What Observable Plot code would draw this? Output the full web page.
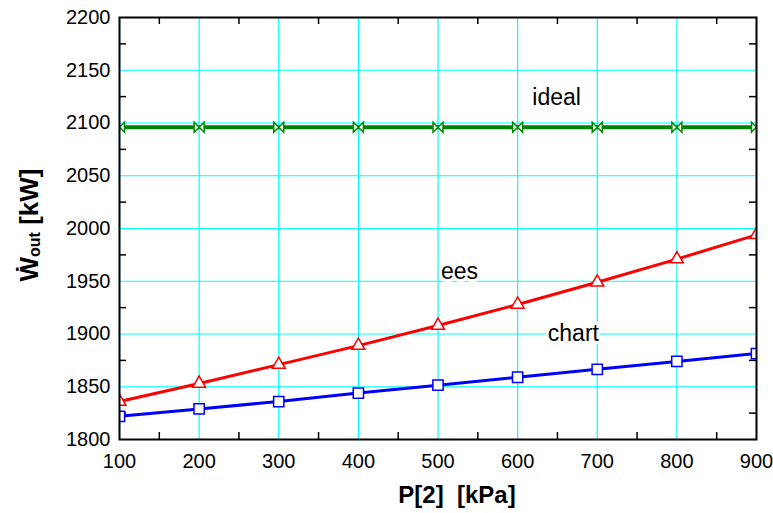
<!DOCTYPE html>
<html>
<head>
<meta charset="utf-8">
<script src="https://cdn.jsdelivr.net/npm/d3@7"></script>
<script src="https://cdn.jsdelivr.net/npm/@observablehq/plot@0.6"></script>
<style>
  html, body { margin: 0; padding: 0; background: white; }
  #chart { width: 773px; height: 513px; }
</style>
</head>
<body>
<div id="chart"></div>
<script>
// ---- data ----
const pressure = [100, 200, 300, 400, 500, 600, 700, 800, 900];
const idealW   = [2096, 2096, 2096, 2096, 2096, 2096, 2096, 2096, 2096];
const eesW     = [1836, 1853, 1871, 1889, 1908, 1928, 1949, 1971, 1994];
const chartW   = [1822, 1829, 1836, 1844, 1851.5, 1859, 1866.5, 1874, 1881.5];

const xTicks = [100, 200, 300, 400, 500, 600, 700, 800, 900];
const yTicks = [1800, 1850, 1900, 1950, 2000, 2050, 2100, 2150, 2200];
const xMinor = [150, 250, 350, 450, 550, 650, 750, 850];
const yMinor = [1825, 1875, 1925, 1975, 2025, 2075, 2125, 2175];

const seriesNames = ["ideal", "ees", "chart"];
const labelX = [649, 527, 670];
const labelY = [2124.5, 1959.5, 1900];

const xLabel = "P[2]\u00a0\u00a0[kPa]";
const yLabelMain = "\u1E86";
const yLabelSub = "out";
const yLabelUnit = "\u00a0[kW]";

const rows = (ys) => pressure.map((p, i) => ({p, w: ys[i]}));
const idealRows = rows(idealW), eesRows = rows(eesW), chartRows = rows(chartW);
const labels = seriesNames.map((t, i) => ({t, x: labelX[i], y: labelY[i]}));

const bowtie = {
  draw(context, size) {
    const h = Math.sqrt(size / Math.PI);
    context.moveTo(-h, -h);
    context.lineTo(h, h);
    context.lineTo(h, -h);
    context.lineTo(-h, h);
    context.closePath();
  }
};

const font = "'Liberation Sans', Arial, Helvetica, sans-serif";

const plot = Plot.plot({
  width: 773,
  height: 513,
  marginLeft: 119,
  marginRight: 17,
  marginTop: 17,
  marginBottom: 74,
  style: {fontFamily: font, background: "white", color: "black"},
  x: {domain: [100, 900]},
  y: {domain: [1800, 2200]},
  marks: [
    Plot.gridX(xTicks, {stroke: "#00ffff", strokeOpacity: 1, strokeWidth: 1.2}),
    Plot.gridY(yTicks, {stroke: "#00ffff", strokeOpacity: 1, strokeWidth: 1.2}),
    Plot.tickX(xMinor, {x: d => d, insetTop: 415, stroke: "black", strokeWidth: 1.5}),
    Plot.tickX(xMinor, {x: d => d, insetBottom: 415, stroke: "black", strokeWidth: 1.5}),
    Plot.tickY(yMinor, {y: d => d, insetRight: 630, stroke: "black", strokeWidth: 1.5}),
    Plot.tickY(yMinor, {y: d => d, insetLeft: 630, stroke: "black", strokeWidth: 1.5}),
    Plot.axisX(xTicks, {tickSize: 0, tickPadding: 14, fontSize: 20, label: null, tickFormat: d => String(d)}),
    Plot.axisY(yTicks, {tickSize: 0, tickPadding: 9, fontSize: 20, label: null, tickFormat: d => String(d)}),
    Plot.line(idealRows, {x: "p", y: "w", stroke: "#007f00", strokeWidth: 4, clip: true}),
    Plot.line(eesRows, {x: "p", y: "w", stroke: "#ff0000", strokeWidth: 3, clip: true}),
    Plot.line(chartRows, {x: "p", y: "w", stroke: "#0000ff", strokeWidth: 3, clip: true}),
    Plot.dot(idealRows, {x: "p", y: "w", symbol: bowtie, r: 5, stroke: "#008800", fill: "white", strokeWidth: 1.5, clip: true}),
    Plot.dot(eesRows, {x: "p", y: "w", symbol: "triangle", r: 4.8, stroke: "#ff0000", fill: "white", strokeWidth: 1.5, clip: true}),
    Plot.dot(chartRows, {x: "p", y: "w", symbol: "square", r: 5.8, stroke: "#0000ff", fill: "white", strokeWidth: 1.5, clip: true}),
    Plot.text(labels, {x: "x", y: "y", text: "t", fontSize: 23, fill: "black", stroke: "white", strokeWidth: 6}),
    Plot.frame({stroke: "black", strokeWidth: 2})
  ]
});

const svg = d3.select(plot);
svg.append("text")
  .attr("x", 457).attr("y", 503)
  .attr("text-anchor", "middle")
  .attr("font-family", font)
  .attr("font-weight", "bold")
  .attr("font-size", 24)
  .attr("fill", "black")
  .text(xLabel);

const yl = svg.append("text")
  .attr("transform", "translate(38,225) rotate(-90)")
  .attr("text-anchor", "middle")
  .attr("font-family", font)
  .attr("font-weight", "bold")
  .attr("font-size", 26)
  .attr("fill", "black");
yl.append("tspan").text(yLabelMain);
yl.append("tspan").attr("font-size", 16).attr("dy", 2).text(yLabelSub);
yl.append("tspan").attr("dy", -2).text(yLabelUnit);

document.getElementById("chart").appendChild(plot);
</script>
</body>
</html>
